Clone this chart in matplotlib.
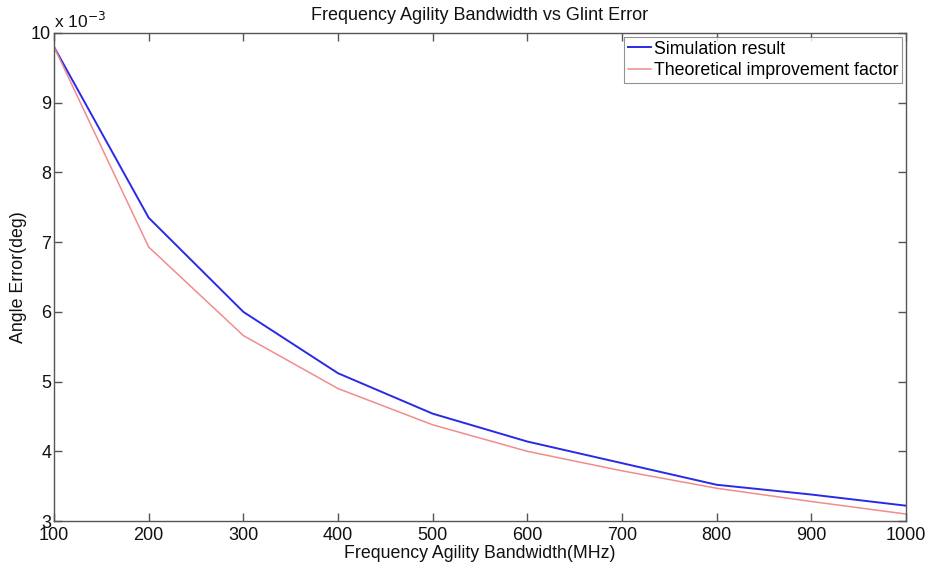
import matplotlib
matplotlib.use("Agg")
import matplotlib.pyplot as plt
from matplotlib.ticker import FuncFormatter, MultipleLocator

plt.rcParams['font.family'] = ['Liberation Sans', 'DejaVu Sans']

bandwidth = [100, 200, 300, 400, 500, 600, 700, 800, 900, 1000]
simulation = [9.80e-3, 7.35e-3, 6.00e-3, 5.12e-3, 4.54e-3, 4.14e-3, 3.83e-3, 3.52e-3, 3.38e-3, 3.22e-3]
theoretical = [9.80e-3, 6.93e-3, 5.66e-3, 4.90e-3, 4.38e-3, 4.00e-3, 3.72e-3, 3.47e-3, 3.28e-3, 3.10e-3]

fig = plt.figure(figsize=(9.33, 5.67), dpi=100)
ax = fig.add_axes([0.0579, 0.0811, 0.9131, 0.8607])

ax.plot(bandwidth, simulation, color='#2a2ae6', lw=1.4, label='Simulation result')
ax.plot(bandwidth, theoretical, color='#f28c8c', lw=1.1, label='Theoretical improvement factor')

ax.set_xlim(100, 1000)
ax.set_ylim(3e-3, 10e-3)
ax.xaxis.set_major_locator(MultipleLocator(100))
ax.yaxis.set_major_locator(MultipleLocator(1e-3))
ax.yaxis.set_major_formatter(FuncFormatter(lambda v, p: f"{v*1e3:.0f}"))

for s in ax.spines.values():
    s.set_color('#555555')
    s.set_linewidth(1.0)
ax.tick_params(direction='in', top=True, right=True, length=6, width=1.0,
               color='#555555', labelsize=13, labelcolor='#111111')
ax.tick_params(axis='x', pad=4)
ax.tick_params(axis='y', pad=2)

ax.set_title('Frequency Agility Bandwidth vs Glint Error', fontsize=13, pad=9, color='#111111')
ax.set_xlabel('Frequency Agility Bandwidth(MHz)', fontsize=12.8, labelpad=1, color='#111111')
ax.set_ylabel('Angle Error(deg)', fontsize=12.8, labelpad=3, color='#111111')
ax.text(0.0, 1.005, 'x 10$^{-3}$', transform=ax.transAxes, fontsize=12.5,
        ha='left', va='bottom', color='#111111')

leg = ax.legend(loc='upper right', fontsize=12.8, frameon=True, fancybox=False,
                edgecolor='#777777', handlelength=1.3, handletextpad=0.17,
                borderpad=0.23, labelspacing=0.24, borderaxespad=0.2)
leg.get_frame().set_linewidth(0.8)

fig.savefig('out.png', dpi=100, facecolor='white')
